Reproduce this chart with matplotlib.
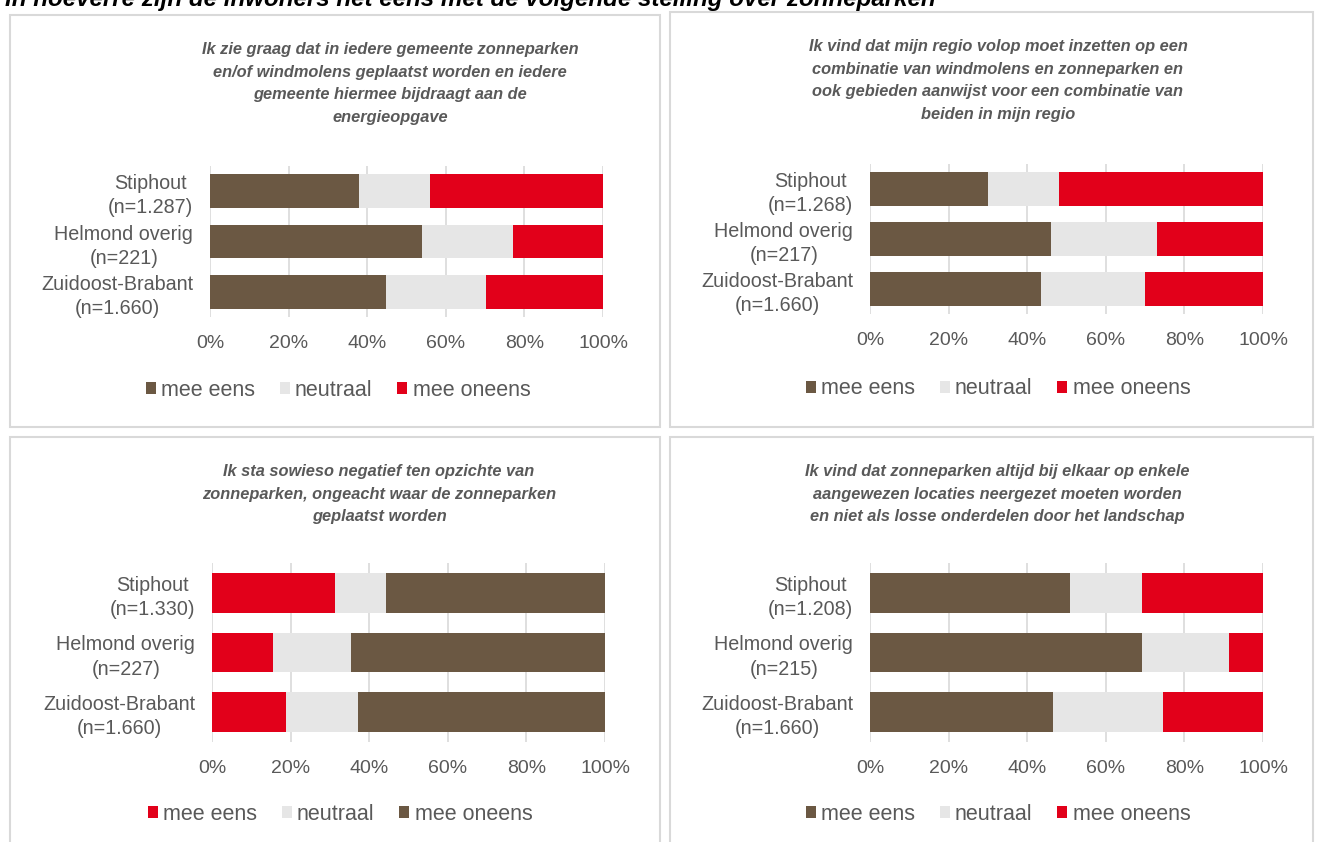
"""Stacked horizontal bar panels: opinions about solar parks."""

import matplotlib

matplotlib.use("Agg")

import matplotlib.pyplot as plt
from matplotlib.patches import Rectangle, Patch

plt.rcParams["font.family"] = ["Liberation Sans", "DejaVu Sans"]

W, H = 1323, 842

BROWN = "#6B5843"
GREY = "#E6E6E6"
RED = "#E2001A"
TEXT = "#595959"

suptitle = "In hoeverre zijn de inwoners het eens met de volgende stelling over zonneparken"
answers = ["mee eens", "neutraal", "mee oneens"]

titles = [
    "Ik zie graag dat in iedere gemeente zonneparken\nen/of windmolens geplaatst worden en iedere\ngemeente hiermee bijdraagt aan de\nenergieopgave",
    "Ik vind dat mijn regio volop moet inzetten op een\ncombinatie van windmolens en zonneparken en\nook gebieden aanwijst voor een combinatie van\nbeiden in mijn regio",
    "Ik sta sowieso negatief ten opzichte van\nzonneparken, ongeacht waar de zonneparken\ngeplaatst worden",
    "Ik vind dat zonneparken altijd bij elkaar op enkele\naangewezen locaties neergezet moeten worden\nen niet als losse onderdelen door het landschap",
]

labels_1 = ["Stiphout\n(n=1.287)", "Helmond overig\n(n=221)", "Zuidoost-Brabant\n(n=1.660)"]
labels_2 = ["Stiphout\n(n=1.268)", "Helmond overig\n(n=217)", "Zuidoost-Brabant\n(n=1.660)"]
labels_3 = ["Stiphout\n(n=1.330)", "Helmond overig\n(n=227)", "Zuidoost-Brabant\n(n=1.660)"]
labels_4 = ["Stiphout\n(n=1.208)", "Helmond overig\n(n=215)", "Zuidoost-Brabant\n(n=1.660)"]

# percentages per answer: mee eens, neutraal, mee oneens
eens_1 = [38, 54, 44.7]
neutraal_1 = [18, 23, 25.5]
oneens_1 = [44, 23, 29.8]

eens_2 = [30, 46, 43.5]
neutraal_2 = [18, 27, 26.6]
oneens_2 = [52, 27, 29.9]

eens_3 = [31.2, 15.6, 18.9]
neutraal_3 = [13.2, 19.8, 18.3]
oneens_3 = [55.6, 64.6, 62.8]

eens_4 = [50.9, 69.1, 46.6]
neutraal_4 = [18.2, 22.2, 27.9]
oneens_4 = [30.9, 8.7, 25.5]

panels = [
    dict(box=(10, 15, 660, 427), ax=(210, 166, 603, 317), title_xy=(390, 42),
         legend_xy=(338, 390), labels=labels_1,
         values=[eens_1, neutraal_1, oneens_1], colors=[BROWN, GREY, RED]),
    dict(box=(670, 12, 1313, 427), ax=(870, 164, 1263, 314), title_xy=(998, 39),
         legend_xy=(998, 389), labels=labels_2,
         values=[eens_2, neutraal_2, oneens_2], colors=[BROWN, GREY, RED]),
    dict(box=(10, 437, 660, 850), ax=(212, 563, 605, 742), title_xy=(379, 464),
         legend_xy=(340, 814), labels=labels_3,
         values=[eens_3, neutraal_3, oneens_3], colors=[RED, GREY, BROWN]),
    dict(box=(670, 437, 1313, 850), ax=(870, 563, 1263, 742), title_xy=(997, 464),
         legend_xy=(998, 814), labels=labels_4,
         values=[eens_4, neutraal_4, oneens_4], colors=[BROWN, GREY, RED]),
]


def fx(x):
    return x / W


def fy(y):
    return 1 - y / H


fig = plt.figure(figsize=(W / 100, H / 100), dpi=100)

# the sheet's heading is cut off at the top edge in the source picture
fig.text(fx(5), fy(6), suptitle, fontsize=17.4, fontweight="bold",
         fontstyle="italic", color="black", ha="left", va="baseline")

for p, title in zip(panels, titles):
    x0, y0, x1, y1 = p["box"]
    fig.patches.append(Rectangle((fx(x0), fy(y1)), (x1 - x0) / W, (y1 - y0) / H,
                                 transform=fig.transFigure, fill=False,
                                 edgecolor="#D9D9D9", linewidth=1.5))

    ax0, ay0, ax1, ay1 = p["ax"]
    ax = fig.add_axes([fx(ax0), fy(ay1), (ax1 - ax0) / W, (ay1 - ay0) / H])
    ypos = list(range(len(p["labels"])))
    left = [0] * len(ypos)
    for vals, col in zip(p["values"], p["colors"]):
        ax.barh(ypos, vals, left=left, height=0.67, color=col, zorder=2)
        left = [a + b for a, b in zip(left, vals)]

    ax.set_xlim(0, 100)
    ax.set_ylim(len(ypos) - 0.5, -0.5)
    ax.set_xticks(range(0, 101, 20))
    ax.set_xticklabels([f"{t}%" for t in range(0, 101, 20)], fontsize=14)
    ax.set_yticks(ypos)
    ax.set_yticklabels(p["labels"], fontsize=14.2, linespacing=1.35)
    for lab in ax.get_yticklabels():
        lab.set_multialignment("center")
    ax.tick_params(axis="both", length=0, labelcolor=TEXT)
    ax.tick_params(axis="x", pad=13)
    ax.tick_params(axis="y", pad=12)
    ax.grid(axis="x", color="#D9D9D9", linewidth=1.2, zorder=0)
    for side in ax.spines.values():
        side.set_visible(False)

    tx, ty = p["title_xy"]
    fig.text(fx(tx), fy(ty), title, ha="center", va="top", fontsize=11.8,
             fontweight="bold", fontstyle="italic", color=TEXT, linespacing=1.64)

    handles = [Patch(facecolor=c, edgecolor="none") for c in p["colors"]]
    lx, ly = p["legend_xy"]
    fig.legend(handles, answers, loc="center", bbox_to_anchor=(fx(lx), fy(ly)),
               ncol=3, frameon=False, fontsize=15.5, labelcolor=TEXT,
               handlelength=0.46, handleheight=0.46, handletextpad=0.25,
               columnspacing=1.15)

fig.savefig("out.png", dpi=100)
plt.close(fig)
